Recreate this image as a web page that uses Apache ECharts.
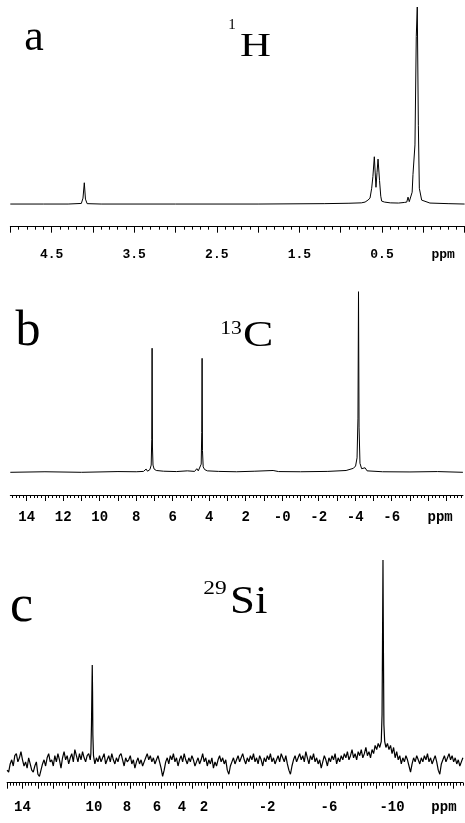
<!DOCTYPE html>
<html><head><meta charset="utf-8">
<script src="https://cdn.jsdelivr.net/npm/echarts@6/dist/echarts.min.js"></script>
<style>html,body{margin:0;padding:0;background:#fff}#c{width:465px;height:823px}</style>
</head><body><div id="c"></div>
<script>
// ---- Panel a : 1H spectrum ----
const hPpm = [5.0, 4.6, 4.3, 4.14, 4.12, 4.104, 4.09, 4.07, 3.9, 3.0, 2.0, 1.2, 0.9, 0.75, 0.705, 0.67, 0.645, 0.625, 0.61, 0.593, 0.573, 0.56, 0.548, 0.53, 0.515, 0.504, 0.47, 0.4, 0.3, 0.23, 0.2, 0.185, 0.17, 0.153, 0.135, 0.125, 0.101, 0.085, 0.073, 0.06, 0.048, 0.02, -0.08, -0.3, -0.5];
const hInt = [0, 0, 0, 0.3, 3, 10.8, 2.5, 0.2, 0, 0, 0, 0.2, 0.4, 0.6, 1, 2, 3, 8, 14, 24, 8.5, 16, 22.8, 12, 4, 1.5, 1, 0.6, 0.5, 0.8, 1, 3.5, 1.2, 2, 6, 15, 30, 85, 100, 40, 8, 2, 0.5, 0.2, 0];
const hTickLabels = ['4.5', '3.5', '2.5', '1.5', '0.5', 'ppm'];
const hTickPos = [4.5, 3.5, 2.5, 1.5, 0.5, -0.24];

// ---- Panel b : 13C spectrum ----
const cPpm = [14.9, 13.0, 11.0, 9.0, 8.0, 7.6, 7.46, 7.38, 7.25, 7.18, 7.15, 7.13, 7.11, 7.08, 7.02, 6.9, 6.5, 5.8, 5.2, 4.8, 4.68, 4.6, 4.5, 4.44, 4.41, 4.39, 4.37, 4.33, 4.25, 4.1, 3.5, 2.5, 1.5, 0.5, 0.2, -1.0, -2.5, -3.5, -3.9, -4.02, -4.1, -4.15, -4.18, -4.21, -4.26, -4.35, -4.54, -4.65, -5.5, -7.0, -8.5, -9.9];
const cInt = [0, 0.3, 0, 0.4, 0.3, 0.5, 1.8, 0.6, 1.5, 4, 18, 68.7, 14, 4, 1.8, 1, 0.6, 0.4, 0.8, 0.5, 2, 0.8, 1.8, 4.5, 22, 63.1, 12, 3, 1.5, 0.8, 0.5, 0.3, 0.6, 1, 0.4, 0.3, 0.5, 1, 2.2, 3.5, 8, 30, 100, 25, 5, 2, 2.5, 0.8, 0.3, 0.2, 0.4, 0];
const cTickLabels = ['14', '12', '10', '8', '6', '4', '2', '-0', '-2', '-4', '-6', 'ppm'];
const cTickPos = [14, 12, 10, 8, 6, 4, 2, 0, -2, -4, -6, -8.65];

// ---- Panel c : 29Si spectrum ----
const siNoiseStart = 15.0;   // ppm of first noise sample
const siNoiseStep = -0.1;    // ppm between samples
const siNoise = [
  -2, -3, 1, 3, 0, 5, 6, 2, 4, 7,
  3, 0, 2, -1, 4, 1, -2, -3, 0, 2,
  -4, -5, -2, 1, 3, 0, 4, 6, 2, 3,
  0, 5, 2, 6, 3, -1, 4, 7, 3, 5,
  1, 4, 6, 2, 8, 5, 2, 6, 3, 7,
  4, 2, 5, 6, 3, 4, 2, 1, 4, 2,
  5, 2, 4, 6, 1, 3, 5, 2, 6, 3,
  1, 4, 2, 5, 6, 3, 0, 4, 2, 3,
  5, 1, 3, -1, 2, 4, 1, 3, 0, 2,
  4, 6, 3, 5, 2, 4, 1, 3, 5, 2,
  -1, -5, -2, 2, 4, 1, 5, 3, 6, 2,
  4, 0, 3, 5, 2, 6, 3, 1, 4, 2,
  5, 3, 0, 2, 4, 1, 3, 6, 2, 4,
  0, 3, 1, 4, -1, 2, 0, 3, 5, 2,
  4, 1, 3, -2, -4, 0, 2, 4, 1, 3,
  5, 2, 4, 6, 3, 1, 4, 2, 5, 3,
  6, 2, 4, 1, 5, 3, 0, 4, 2, 5,
  3, 6, 2, 4, 1, 3, 5, 2, 6, 4,
  2, 5, 1, -2, -4, 0, 3, 5, 2, 4,
  6, 3, 5, 2, 7, 4, 1, 5, 3, 6,
  2, 4, 1, 3, -1, 2, 5, 3, 0, 4,
  2, 5, 3, 6, 1, 4, 2, 5, 3, 6,
  4, 7, 3, 5, 8, 4, 6, 3, 7, 5,
  8, 4, 6, 9, 5, 7, 4, 8, 6, 10,
  8, 11, 9, 7, 12, 10, 9, 11, 8, 10,
  6, 9, 4, 7, 3, 5, 1, 4, 2, 5,
  3, 0, -3, 1, 4, 2, 5, 3, 1, 4,
  2, 5, 3, 6, 2, 4, 1, 3, 5, 2,
  -2, -4, 1, 3, 5, 2, 4, 6, 3, 5,
  2, 4, 1, 3, 0, 2, 4
];
const siPeakPpm = [9.56, 9.52, 9.49, 9.47, 9.45, 9.43, 9.39, -9.30, -9.35, -9.38, -9.41, -9.44, -9.47, -9.52];
const siPeakInt = [6, 20, 38, 49, 36, 15, 5, 12, 25, 60, 100, 55, 20, 12];
const siPeakCenters = [9.47, -9.41];
const siTickLabels = ['14', '10', '8', '6', '4', '2', '-2', '-6', '-10', 'ppm'];
const siTickPos = [14, 9.36, 7.21, 5.27, 3.64, 2.21, -1.88, -5.90, -10.0, -13.37];

// ---------- build ----------
function steps(lo, hi, st) {
  const out = []; const n = Math.round((hi - lo) / st);
  for (let i = 0; i <= n; i++) out.push(Math.round((lo + i * st) * 100) / 100);
  return out;
}
function pairs(xs, ys) { return xs.map((x, i) => [x, ys[i]]); }

const siData = [];
siNoise.forEach((v, i) => {
  const x = Math.round((siNoiseStart + i * siNoiseStep) * 100) / 100;
  if (siPeakCenters.some(c => Math.abs(x - c) < 0.12)) return;
  siData.push([x, v]);
});
siPeakPpm.forEach((x, i) => siData.push([x, siPeakInt[i]]));
siData.sort((a, b) => b[0] - a[0]);

const black = '#000';
const mono = '"Liberation Mono", "DejaVu Sans Mono", monospace';
const serif = '"Liberation Serif", "DejaVu Serif", serif';

function mainAxis(grid, min, max, majors, labPos, labTxt, margin, fs) {
  return {
    type: 'value', gridIndex: grid, inverse: true, min: min, max: max, position: 'bottom',
    axisLine: { show: true, onZero: false, lineStyle: { color: black, width: 1 } },
    axisTick: { show: true, inside: false, length: 6, customValues: majors, lineStyle: { color: black, width: 1 } },
    axisLabel: {
      show: true, customValues: labPos, margin: margin,
      formatter: v => { const i = labPos.indexOf(v); return i >= 0 ? labTxt[i] : ''; },
      fontFamily: mono, fontWeight: 'bold', fontSize: fs, color: black
    },
    splitLine: { show: false }, minorTick: { show: false }
  };
}
function minorAxis(grid, min, max, minors) {
  return {
    type: 'value', gridIndex: grid, inverse: true, min: min, max: max, position: 'bottom',
    axisLine: { show: false, onZero: false },
    axisTick: { show: true, inside: false, length: 3, customValues: minors, lineStyle: { color: black, width: 1 } },
    axisLabel: { show: false }, splitLine: { show: false }
  };
}
function yAx(grid, min) {
  return { type: 'value', gridIndex: grid, min: min, max: 100, show: false, splitLine: { show: false } };
}
function series(xi, yi, data, w) {
  return {
    type: 'line', xAxisIndex: xi, yAxisIndex: yi, data: data, showSymbol: false, symbol: 'none',
    clip: false, lineStyle: { color: black, width: w }, animation: false, silent: true
  };
}
function txt(x, y, text, size, align, sx) {
  return {
    type: 'text', x: x, y: y, scaleX: sx || 1, silent: true,
    style: { text: text, font: size + 'px ' + serif, fill: black, textAlign: align, textVerticalAlign: 'middle', align: align, verticalAlign: 'middle' }
  };
}

const chart = echarts.init(document.getElementById('c'), null, { renderer: 'canvas' });
chart.setOption({
  backgroundColor: '#fff',
  animation: false,
  grid: [
    { left: 10.3, right: 0.4, top: 7, height: 219.7 },
    { left: 10.3, right: 2.1, top: 291.7, height: 203.3 },
    { left: 7.1, right: 2.1, top: 560, height: 222.7 }
  ],
  xAxis: [
    mainAxis(0, -0.5, 5.0, steps(-0.5, 5.0, 0.5), hTickPos, hTickLabels, 22, 13),
    minorAxis(0, -0.5, 5.0, steps(-0.5, 5.0, 0.1)),
    mainAxis(1, -9.9, 14.9, steps(-9, 14, 1), cTickPos, cTickLabels, 15, 14),
    minorAxis(1, -9.9, 14.9, steps(-9.8, 14.8, 0.2)),
    mainAxis(2, -14.6, 15.0, steps(-14, 15, 1), siTickPos, siTickLabels, 18, 14),
    minorAxis(2, -14.6, 15.0, steps(-14.6, 15.0, 0.2))
  ],
  yAxis: [yAx(0, -11.5), yAx(1, -12.57), yAx(2, -8.1)],
  series: [
    series(0, 0, pairs(hPpm, hInt), 1),
    series(2, 1, pairs(cPpm, cInt), 1),
    series(4, 2, siData, 1.2)
  ],
  graphic: [
    txt(34, 38.5, 'a', 44, 'center'),
    txt(232, 25, '1', 15, 'center'),
    txt(240, 47.4, 'H', 33, 'left', 1.3),
    txt(28, 331.5, 'b', 50, 'center'),
    txt(231, 329, '13', 18, 'center', 1.2),
    txt(243, 336.5, 'C', 35, 'left', 1.3),
    txt(21.5, 607.8, 'c', 52, 'center'),
    txt(215, 589, '29', 18, 'center', 1.3),
    txt(230, 602, 'Si', 40, 'left', 1.12)
  ]
});
</script></body></html>
